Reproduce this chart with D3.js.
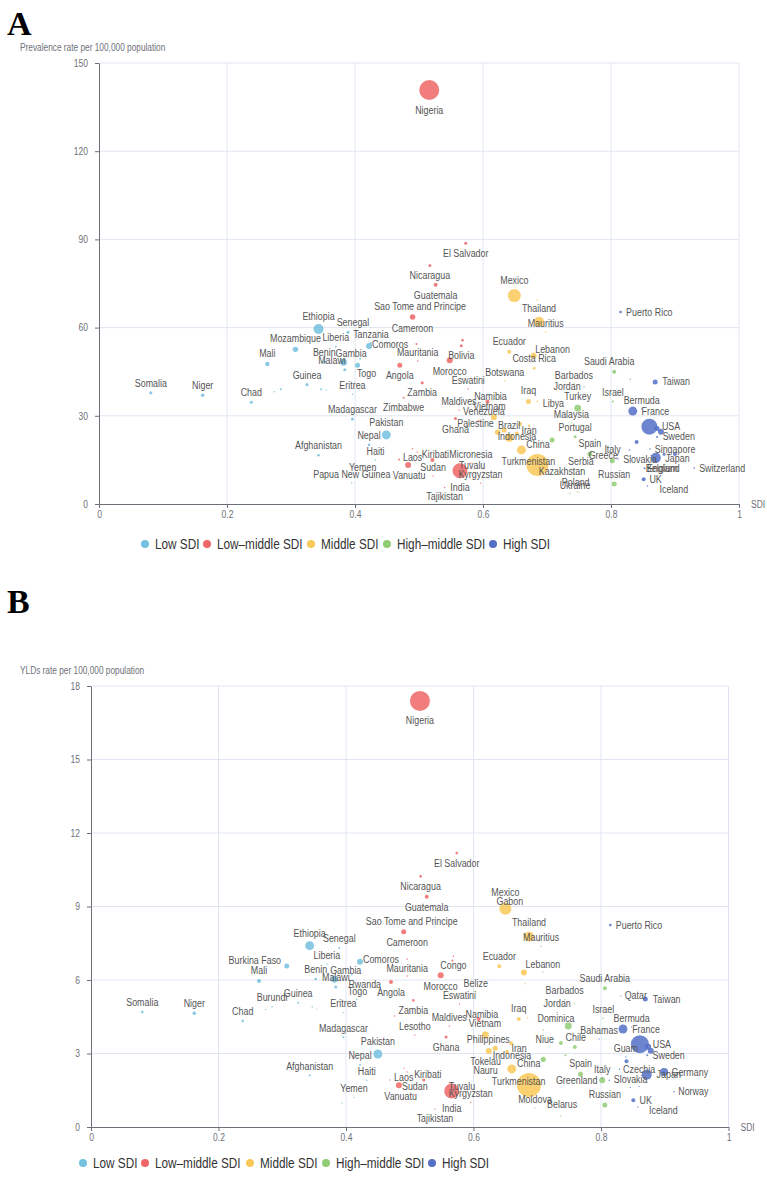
<!DOCTYPE html>
<html><head><meta charset="utf-8">
<script src="https://cdn.jsdelivr.net/npm/d3@7"></script>
<style>body{margin:0;background:#fff}svg{display:block}</style>
</head><body><svg id="c" width="767" height="1186"></svg>
<script>
// ---------- DATA ----------
const groupNames = ["Low SDI","Low\u2013middle SDI","Middle SDI","High\u2013middle SDI","High SDI"];
const xTicks = [0,0.2,0.4,0.6,0.8,1];
const prevTicks = [0,30,60,90,120,150];
const yldTicks = [0,3,6,9,12,15,18];

// Panel A: [country, SDI, prevalence rate, cases (bubble size)]
const prevLow = [
 ["Somalia",.081,37.8,2.3],["Niger",.162,37.0,3.2],["Chad",.238,34.6,2.3],["Mali",.263,47.6,4.8],
 ["Mozambique",.307,52.6,7.3],["Guinea",.325,40.6,2.3],["Ethiopia",.343,59.5,25],["Afghanistan",.343,16.6,1.7],
 ["Benin",.352,48.4,2.3],["Liberia",.370,53.5,1],["Malawi",.382,48.2,12],["Senegal",.389,58.4,2.3],
 ["Gambia",.408,49.4,1],["",.384,45.7,2.3],["Togo",.404,47.2,6.3],["Tanzania",.425,54.8,1],
 ["Comoros",.422,53.7,9],["Eritrea",.396,37.3,0.6],["Madagascar",.396,28.9,2.3],["Pakistan",.449,23.5,20],
 ["Nepal",.422,20.1,1.7],["Haiti",.432,15.0,0.6],["Yemen",.412,9.5,0.5],["Papua New Guinea",.395,7.2,0.6],
 ["",.274,38.2,0.6],["",.284,39.0,1],["",.347,39.0,1],["",.355,38.8,0.4]
];
const prevLowMid = [
 ["Nigeria",.516,140.8,100],["El Salvador",.573,88.7,2.3],["Nicaragua",.517,81.1,2.3],["Guatemala",.526,74.6,4],
 ["Sao Tome and Principe",.490,63.6,7.8],["Cameroon",.496,54.4,1],["Mauritania",.498,48.6,0.6],["Bolivia",.566,53.8,2.3],
 ["",.568,55.7,1.7],["Morocco",.548,48.9,9],["Eswatini",.577,39.1,0.5],["Angola",.470,47.2,6.3],
 ["Zambia",.505,41.2,2.3],["Zimbabwe",.476,36.1,1],["Maldives",.5625,32.0,0.5],["Namibia",.607,34.8,4],
 ["Palestine",.593,28.2,1],["Ghana",.557,29.1,2.3],["Laos",.490,18.8,0.6],["",.469,15.1,1],
 ["",.497,17.7,0.5],["Kiribati",.521,15.0,4],["Vanuatu",.483,13.3,9],["Sudan",.522,9.5,0.5],
 ["Micronesia",.581,13.9,0.5],["India",.564,11.3,56],["Tuvalu",.583,10.2,0.5],["Kyrgyzstan",.596,7.1,0.5],
 ["Tajikistan",.540,5.6,0.5]
];
const prevMid = [
 ["Mexico",.649,70.9,42],["Thailand",.6875,62.0,25],["Mauritius",.698,58.5,0.6],["",.685,69.4,0.6],
 ["Ecuador",.641,51.8,4],["Lebanon",.679,50.4,9],["Costa Rica",.680,46.2,1.7],["Botswana",.634,41.9,0.6],
 ["Iraq",.671,34.9,6.3],["Libya",.685,34.9,0.6],["Venezuela",.617,29.5,9],["Vietnam",.610,30.3,0.5],
 ["",.633,25.2,6.3],["",.623,24.4,7.8],["",.653,24.0,4],["Brazil",.658,27.2,4],
 ["Iran",.672,26.6,1.4],["Indonesia",.641,22.5,16],["China",.660,18.4,20],["Turkmenistan",.685,13.3,121]
];
const prevHighMid = [
 ["Kazakhstan",.7234,8.2,0.5],["Saudi Arabia",.805,45.0,4],["Barbados",.742,40.8,0.5],["Jordan",.758,39.9,0.6],
 ["Turkey",.748,32.6,12],["Malaysia",.738,27.6,0.5],["Israel",.803,34.9,1],["Portugal",.744,22.9,2.3],
 ["Spain",.767,17.0,6.3],["Greece",.802,14.7,6.3],["Serbia",.753,11.6,0.5],["",.708,21.8,6.3],
 ["Russian",.805,6.8,6.3],["Ukraine",.736,3.6,0.5],["Poland",.748,4.1,0.5]
];
const prevHigh = [
 ["Puerto Rico",.815,65.3,1.7],["Taiwan",.869,41.5,6.3],["",.830,42.5,0.4],["Bermuda",.848,32.3,0.5],
 ["France",.834,31.6,20],["USA",.860,26.3,64],["",.872,25.7,6.3],["",.878,24.6,9],["",.840,21.1,4],
 ["Sweden",.872,22.8,1],["Singapore",.861,18.7,0.6],["Japan",.870,15.7,25],["",.883,16.9,2.3],["",.900,17.0,4],
 ["Italy",.829,18.4,0.6],["Slovakia",.811,15.3,0.5],["England",.852,12.2,0.6],["Belgium",.853,12.1,0.5],
 ["Switzerland",.930,12.2,0.6],["UK",.851,8.4,4],["Iceland",.857,6.1,0.5]
];

// Panel B: [country, SDI, YLDs rate, cases (bubble size)]
const yldLow = [
 ["Somalia",.0805,4.69,1.7],["Niger",.162,4.64,3.2],["Chad",.238,4.33,1.7],["Mali",.2635,5.96,4],
 ["Burkina Faso",.257,6.44,0.6],["Mozambique",.307,6.57,6.3],["Burundi",.284,4.91,0.6],["",.274,4.8,0.4],
 ["Guinea",.325,5.07,1],["",.347,4.91,0.6],["",.354,4.82,0.3],["Ethiopia",.343,7.40,20],
 ["Afghanistan",.343,2.11,1],["Liberia",.370,6.65,0.6],["Benin",.3525,6.04,1.7],["Senegal",.3895,7.31,1],
 ["Malawi",.382,6.03,12],["Gambia",.409,6.2,0.6],["",.384,5.71,2.3],["Rwanda",.420,5.47,0.5],
 ["Togo",.417,5.21,0.6],["Comoros",.422,6.75,9],["Eritrea",.396,4.67,0.5],["Madagascar",.396,3.66,1],
 ["Pakistan",.450,2.98,20],["Nepal",.422,2.54,1],["Haiti",.4325,1.91,0.5],["Yemen",.4125,1.21,0.5],["",.394,0.97,0.4]
];
const yldLowMid = [
 ["Nigeria",.516,17.39,100],["El Salvador",.5737,11.18,1.7],["Nicaragua",.517,10.23,1.7],["Guatemala",.5266,9.40,4],
 ["Sao Tome and Principe",.4905,7.97,6.3],["Cameroon",.496,6.86,0.6],["Mauritania",.496,6.16,0.5],["Congo",.567,6.80,1],
 ["",.5685,6.97,0.6],["Morocco",.5485,6.19,9],["Angola",.4706,5.92,4],["Eswatini",.578,5.02,0.5],
 ["Zambia",.5056,5.17,1.7],["Lesotho",.508,3.76,0.5],["",.476,4.53,0.6],["Maldives",.562,4.12,0.5],
 ["Namibia",.608,4.41,4],["Ghana",.557,3.67,2.3],["Laos",.469,1.92,0.5],["",.491,2.40,0.4],["",.496,2.25,0.4],
 ["Kiribati",.522,1.92,2.3],["Vanuatu",.483,1.70,9],["Sudan",.508,1.31,0.4],["India",.5658,1.47,56],
 ["Tuvalu",.582,1.31,0.4],["Kyrgyzstan",.5956,1.0,0.4],["Tajikistan",.5396,0.73,0.5]
];
const yldMid = [
 ["Mexico",.650,8.91,36],["Gabon",.657,8.86,0.5],["Thailand",.687,7.77,25],["Ecuador",.6405,6.56,4],
 ["Lebanon",.679,6.31,9],["",.681,5.85,0.5],["Belize",.6035,5.51,0.4],["Vietnam",.618,3.88,0.4],
 ["Iraq",.671,4.41,4],["",.685,4.46,0.5],["Philippines",.6185,3.76,12],["Iran",.659,3.42,4],
 ["Indonesia",.6525,3.06,4],["",.634,3.21,6.3],["",.624,3.10,9],["Tokelau",.619,2.33,0.4],
 ["China",.660,2.37,20],["Nauru",.619,1.94,0.4],["Turkmenistan",.687,1.71,144]
];
const yldHighMid = [
 ["Mauritius",.706,7.39,0.6],["",.709,6.32,0.5],["Barbados",.743,5.20,0.4],["Jordan",.758,5.03,0.5],
 ["Dominica",.731,4.67,0.6],["Niue",.7095,3.96,0.6],["Chile",.7487,4.12,12],["",.737,3.43,4],
 ["",.759,3.27,4],["",.744,2.93,1],["",.7095,2.76,6.3],["Saudi Arabia",.806,5.66,4],
 ["Israel",.8036,4.44,0.6],["Qatar",.831,5.35,0.5],["Spain",.768,2.15,6.3],["Greenland",.802,1.91,9],
 ["Russian",.806,0.90,6.3],["Belarus",.737,0.45,0.5],["Moldova",.6965,0.78,0.4]
];
const yldHigh = [
 ["Puerto Rico",.8146,8.24,1.7],["Taiwan",.8695,5.22,6.3],["Bermuda",.848,4.08,0.4],["Bahamas",.797,3.59,0.4],
 ["France",.8345,4.0,20],["USA",.861,3.38,81],["Guam",.839,2.86,0.4],["",.874,3.28,9],["",.878,3.11,9],
 ["",.840,2.68,4],["Sweden",.8726,2.93,1],["Czechia",.829,2.36,0.6],["Germany",.899,2.24,16],
 ["Japan",.8717,2.13,25],["Slovakia",.813,1.91,0.6],["Italy",.802,2.0,0.4],["Norway",.9145,1.44,0.6],
 ["UK",.8507,1.09,4],["Iceland",.8576,0.82,0.5],["",.846,1.62,0.4],["",.860,1.66,0.4]
];

// ---------- LAYOUT / STYLE ----------
const colors = ["#73c0de","#ee6666","#fac858","#91cc75","#5470c6"];
const labelOffsetPrev = {
 "Nigeria":[0,20],"Ethiopia":[0,-13],"Malawi":[-11.5,-2],"Senegal":[5,-10],"Gambia":[-9,-5.5],"Togo":[9,8],
 "Tanzania":[0,-8],"Comoros":[21,-2],"Pakistan":[0,-12.7],"El Salvador":[0,10],"Nicaragua":[0,9.5],
 "Guatemala":[0,11],"Sao Tome and Principe":[7.5,-10.3],"Cameroon":[-4,-16],"Bolivia":[0,10],"Morocco":[0,11],
 "Angola":[0,10.7],"Zambia":[0,10],"Zimbabwe":[0,10],"Namibia":[3,-5],"Palestine":[-3,2.7],"Ghana":[0,10.7],
 "Laos":[0,9],"Kiribati":[3,-5],"Vanuatu":[1,10.7],"India":[0,16.6],"Tajikistan":[0,9],"Mexico":[0,-15],
 "Thailand":[0,-13.7],"Lebanon":[19,-6.7],"Libya":[16,1.7],"Venezuela":[-10,-5.3],"Brazil":[-11,1.7],
 "Iran":[0,4.3],"Indonesia":[7.7,-1],"China":[16.6,-5.7],"Turkmenistan":[-9,-3],"Saudi Arabia":[-5,-10],
 "Jordan":[-17,0],"Turkey":[0,-12],"Greece":[-9,-5],"Russian":[0,-10],"Ukraine":[5,-8.3],"Poland":[-2,-9],
 "Puerto Rico":[28.7,0],"Taiwan":[21,0],"France":[22.7,0.3],"USA":[21.7,0],"Sweden":[21.7,0],
 "Singapore":[25,0],"Japan":[21.7,0.6],"Italy":[-17,0],"Slovakia":[22,0],"England":[19,0],"Belgium":[17,0],
 "Switzerland":[28,0],"UK":[12,0],"Iceland":[26.4,3.3]
};
const labelOffsetYld = {
 "Nigeria":[0,20],"Ethiopia":[0,-12.7],"Senegal":[0,-9.7],"Malawi":[1.3,-2],"Gambia":[-6,-5],"Rwanda":[6,-8.3],
 "Togo":[0.6,-8.3],"Comoros":[21,-1.7],"Pakistan":[0,-12.3],"El Salvador":[0,10],"Nicaragua":[0,10],
 "Guatemala":[0,10.3],"Sao Tome and Principe":[8,-10.7],"Cameroon":[0,-16.3],"Mauritania":[0,-8],
 "Congo":[1,5.4],"Morocco":[0,11.4],"Angola":[0,10.7],"Zambia":[0,10],"Namibia":[3.3,-4.7],"Ghana":[0,10],
 "Laos":[13.7,-2.3],"Kiribati":[4,-5],"Vanuatu":[1.7,11.4],"India":[0,18],"Tajikistan":[0,9.3],
 "Mexico":[0,-16],"Thailand":[0,-13.7],"Lebanon":[19,-7.6],"Philippines":[3,4.3],"Iran":[8,5.7],
 "Indonesia":[5,3.7],"China":[17,-5.7],"Turkmenistan":[-10.3,-3.3],"Jordan":[-17,0],"Dominica":[-1,5.6],
 "Niue":[1.4,9.3],"Chile":[7.4,11],"Saudi Arabia":[0,-10.3],"Qatar":[15,0],"Spain":[0,-10.6],
 "Greenland":[-25.6,0.4],"Russian":[0,-10],"Belarus":[1.3,-11],"Puerto Rico":[28.7,0],"Taiwan":[21.4,0],
 "France":[23,0.7],"USA":[22,0],"Sweden":[21.4,0.4],"Czechia":[19.7,0],"Germany":[25.7,0.3],"Japan":[22,0],
 "Slovakia":[21.4,-0.3],"Norway":[19.3,0],"UK":[12.4,0],"Iceland":[25.6,3.7]
};
const hiddenYld = ["Mozambique"];

const svg = d3.select("#c");
const FONT = "'Liberation Sans', Arial, Helvetica, sans-serif";
const rScale = d3.scaleSqrt().domain([0,144]).range([0,12]);

// horizontally condense text (the reference uses a narrow sans face)
function squeeze(sel,k){
  sel.each(function(){
    const L = this.getComputedTextLength();
    if (L>0) d3.select(this).attr("textLength",L*k).attr("lengthAdjust","spacingAndGlyphs");
  });
}

function drawPanel(p){
  const x = d3.scaleLinear().domain([0,1]).range([p.left,p.right]);
  const y = d3.scaleLinear().domain([0,d3.max(p.yTicks)]).range([p.bottom,p.top]);
  const g = svg.append("g");

  g.append("text").attr("x",7).attr("y",p.letterY).text(p.letter)
    .attr("font-family","'Liberation Serif','Times New Roman',serif").attr("font-weight","bold")
    .attr("font-size",34).attr("fill","#000");
  const tt = g.append("text").attr("x",20).attr("y",p.titleY).attr("dy","0.35em").text(p.title)
    .attr("font-family",FONT).attr("font-size",10).attr("fill","#6e7079");
  squeeze(tt,0.83);

  // grid
  g.append("g").selectAll("line").data(xTicks.filter(d=>d>0)).join("line")
    .attr("x1",d=>x(d)).attr("x2",d=>x(d)).attr("y1",p.top).attr("y2",p.bottom)
    .attr("stroke","#e0e6f1").attr("stroke-width",1);
  g.append("g").selectAll("line").data(p.yTicks.filter(d=>d>0)).join("line")
    .attr("x1",p.left).attr("x2",p.right).attr("y1",d=>y(d)).attr("y2",d=>y(d))
    .attr("stroke","#e0e6f1").attr("stroke-width",1);

  // axes
  const ax = g.append("g").attr("transform",`translate(0,${p.bottom})`)
    .call(d3.axisBottom(x).tickValues(xTicks).tickFormat(d=>d===0?"0":d===1?"1":d3.format(".1f")(d))
      .tickSize(4).tickSizeOuter(0).tickPadding(3));
  const ay = g.append("g").attr("transform",`translate(${p.left},0)`)
    .call(d3.axisLeft(y).tickValues(p.yTicks).tickSize(4).tickSizeOuter(0).tickPadding(7));
  [ax,ay].forEach(a=>{
    a.select(".domain").attr("stroke","#6e7079");
    a.selectAll(".tick line").attr("stroke","#6e7079");
    a.selectAll("text").attr("fill","#6e7079").attr("font-family",FONT).attr("font-size",10);
    squeeze(a.selectAll("text"),0.85);
  });
  const sdiT = g.append("text").attr("x",p.right+12).attr("y",p.bottom).attr("dy","0.35em").text("SDI")
    .attr("font-family",FONT).attr("font-size",10).attr("fill","#6e7079");
  squeeze(sdiT,0.85);

  // points
  const pts = [];
  p.series.forEach((arr,gi)=>arr.forEach(d=>pts.push({name:d[0],sdi:d[1],v:d[2],c:d[3],gi})));
  const sorted = pts.slice().sort((a,b)=>b.c-a.c);
  g.append("g").selectAll("circle").data(sorted).join("circle")
    .attr("cx",d=>x(d.sdi)).attr("cy",d=>y(d.v)).attr("r",d=>Math.max(0.5,rScale(d.c)))
    .attr("fill",d=>colors[d.gi]).attr("fill-opacity",0.85);

  // labels
  const lab = pts.filter(d=>d.name && !p.hidden.includes(d.name));
  const lt = g.append("g").selectAll("text").data(lab).join("text")
    .attr("x",d=>x(d.sdi)+(p.offsets[d.name]?p.offsets[d.name][0]:0))
    .attr("y",d=>y(d.v)+(p.offsets[d.name]?p.offsets[d.name][1]:-(rScale(d.c)+8)))
    .attr("dy","0.35em").attr("text-anchor","middle").text(d=>d.name)
    .attr("font-family",FONT).attr("font-size",10).attr("fill","#555");
  squeeze(lt,0.89);

  // legend
  const lg = g.append("g");
  groupNames.forEach((n,i)=>{
    lg.append("circle").attr("cx",p.legendX[i]).attr("cy",p.legendY).attr("r",4).attr("fill",colors[i]);
    const t = lg.append("text").attr("x",p.legendX[i]+10).attr("y",p.legendY).attr("dy","0.35em").text(n)
      .attr("font-family",FONT).attr("font-size",14).attr("fill","#333");
    squeeze(t,0.84);
  });
}

drawPanel({letter:"A",letterY:35,title:"Prevalence rate per 100,000 population",titleY:47,
  left:99,right:739,top:63,bottom:504,yTicks:prevTicks,
  series:[prevLow,prevLowMid,prevMid,prevHighMid,prevHigh],offsets:labelOffsetPrev,hidden:[],
  legendX:[145,207,311,387,493],legendY:544});
drawPanel({letter:"B",letterY:613,title:"YLDs rate per 100,000 population",titleY:670,
  left:91,right:728.5,top:686,bottom:1127,yTicks:yldTicks,
  series:[yldLow,yldLowMid,yldMid,yldHighMid,yldHigh],offsets:labelOffsetYld,hidden:hiddenYld,
  legendX:[83,145,250,326,432],legendY:1163});
</script></body></html>
